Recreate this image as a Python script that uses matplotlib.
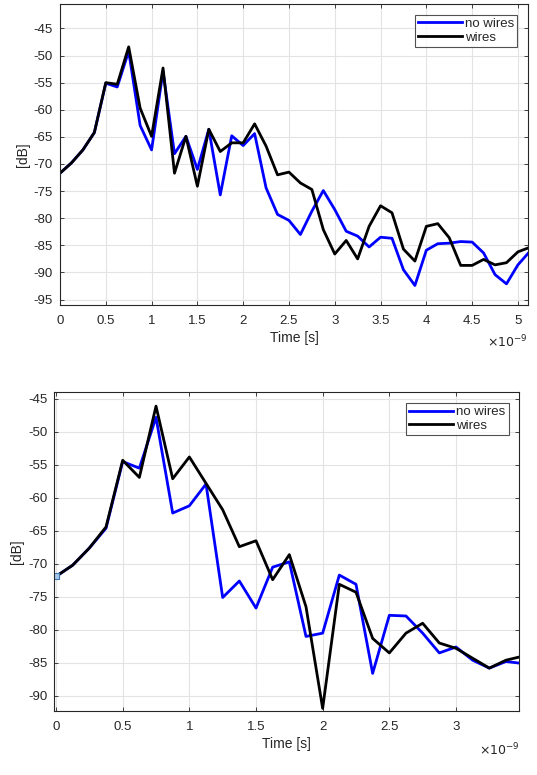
import numpy as np
import matplotlib
matplotlib.use("Agg")
import matplotlib.pyplot as plt

plt.rcParams['font.family'] = ['Liberation Sans', 'DejaVu Sans']
plt.rcParams['axes.unicode_minus'] = False

# time axis in ns (plotted with a x10^-9 note like the original)
t_top = np.arange(42) * 0.125
top_no_wires = [-71.7, -69.8, -67.4, -64.2, -55.1, -55.8, -49.2, -62.9, -67.4, -52.9,
                -68.1, -64.9, -71.0, -63.6, -75.7, -64.8, -66.6, -64.4, -74.4, -79.3,
                -80.4, -83.0, -78.7, -74.9, -78.4, -82.4, -83.3, -85.3, -83.5, -83.7,
                -89.5, -92.4, -85.9, -84.7, -84.6, -84.3, -84.4, -86.4, -90.4, -92.1,
                -88.6, -86.2]
top_wires = [-71.7, -69.8, -67.4, -64.2, -55.0, -55.3, -48.4, -59.7, -64.9, -52.3,
             -71.7, -64.9, -74.1, -63.6, -67.7, -66.1, -66.1, -62.6, -66.7, -72.0,
             -71.5, -73.5, -74.7, -82.1, -86.6, -84.1, -87.5, -81.5, -77.7, -79.0,
             -85.7, -87.9, -81.5, -81.0, -83.6, -88.7, -88.7, -87.6, -88.6, -88.2,
             -86.2, -85.4]

t_bot = np.arange(29) * 0.125
bot_no_wires = [-71.9, -70.2, -67.6, -64.6, -54.5, -55.5, -47.8, -62.3, -61.2, -57.9,
                -75.1, -72.6, -76.7, -70.5, -69.7, -81.0, -80.5, -71.7, -73.1, -86.6,
                -77.8, -77.9, -80.5, -83.5, -82.6, -84.6, -85.8, -84.8, -85.1]
bot_wires = [-71.9, -70.2, -67.6, -64.4, -54.3, -56.9, -46.1, -57.1, -53.8, -57.8,
             -61.8, -67.4, -66.5, -72.4, -68.6, -76.5, -91.9, -73.1, -74.3, -81.3,
             -83.5, -80.5, -79.0, -82.0, -82.8, -84.3, -85.8, -84.6, -84.0]

W, H = 537, 775
fig = plt.figure(figsize=(W / 100, H / 100), dpi=100)

txt = '#262626'


def style(ax, xlim, ylim, xticks, yticks):
    ax.set_xlim(*xlim)
    ax.set_ylim(*ylim)
    ax.set_xticks(xticks)
    ax.set_xticklabels([('%g' % v) for v in xticks])
    ax.set_yticks(yticks)
    ax.grid(True, color='#e3e3e3', lw=0.8)
    ax.set_axisbelow(True)
    ax.tick_params(direction='in', length=3, width=0.6, colors=txt, labelsize=9.5,
                   top=True, right=True, labeltop=False, labelright=False)
    ax.tick_params(axis='x', pad=7)
    ax.tick_params(axis='y', pad=5)
    for s in ax.spines.values():
        s.set_color(txt)
        s.set_linewidth(0.8)
    ax.set_xlabel('Time [s]', fontsize=10, color=txt, labelpad=3)
    ax.set_ylabel('[dB]', fontsize=10, color=txt, labelpad=3)
    leg = ax.legend(loc='upper right', fontsize=9.5, frameon=True, fancybox=False,
                    handlelength=3.3, handletextpad=0.25, borderpad=0.25,
                    labelspacing=0.1, borderaxespad=0.8)
    leg.get_frame().set_edgecolor(txt)
    leg.get_frame().set_linewidth(0.8)
    for t in leg.get_texts():
        t.set_color(txt)
    ax.text(1.0, -0.095, r'$\times10^{-9}$', transform=ax.transAxes, ha='right',
            va='top', fontsize=9, color=txt)


ax1 = fig.add_axes([60 / W, 1 - 305 / H, 468 / W, 301 / H])
ax1.plot(t_top, top_no_wires, color='#0000ff', lw=2, label='no wires')
ax1.plot(t_top, top_wires, color='black', lw=2, label='wires')
style(ax1, (0, 5.11), (-96, -40.5), np.arange(0, 5.01, 0.5), np.arange(-95, -44, 5))

ax2 = fig.add_axes([54.3 / W, 1 - 711 / H, 465 / W, 318.7 / H])
ax2.plot(t_bot, bot_no_wires, color='#0000ff', lw=2, label='no wires')
ax2.plot(t_bot, bot_wires, color='black', lw=2, label='wires')
ax2.plot([0], [bot_no_wires[0]], marker='s', ms=5, mfc='#a6c8ea', mec='#3c78b4',
         mew=0.8, ls='none')
style(ax2, (-0.013, 3.475), (-92.3, -44), np.arange(0, 3.01, 0.5), np.arange(-90, -44, 5))

fig.savefig('out.png', dpi=100)
